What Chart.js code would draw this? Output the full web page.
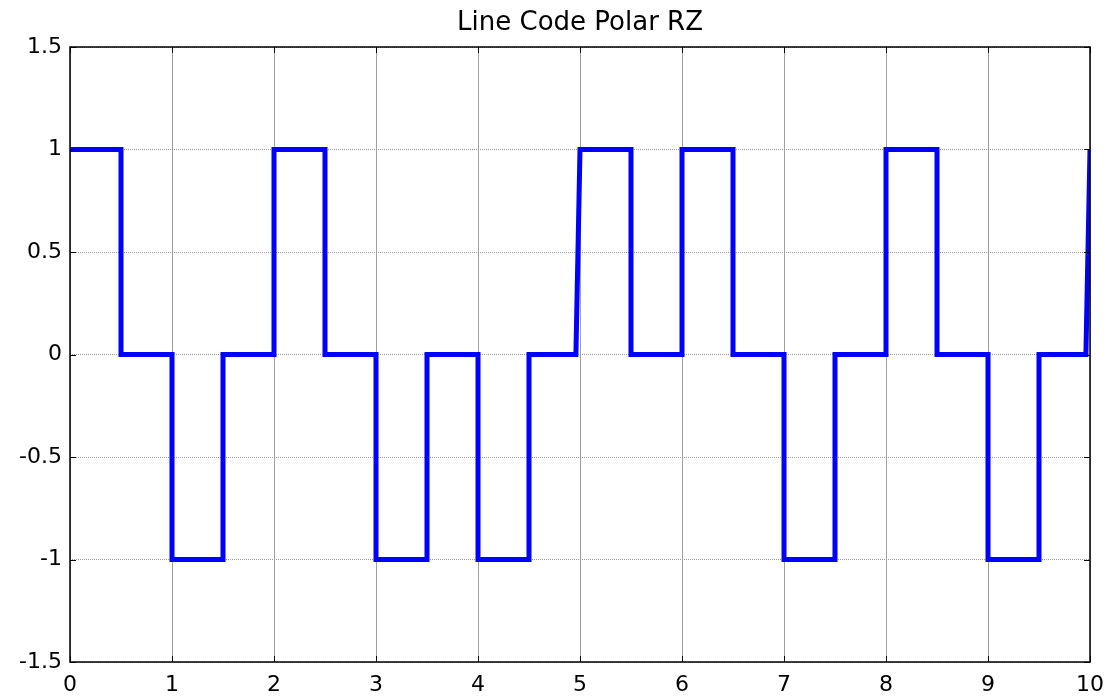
<!DOCTYPE html>
<html>
<head>
<meta charset="utf-8">
<script src="https://cdn.jsdelivr.net/npm/chart.js@4.4.0/dist/chart.umd.min.js"></script>
<style>
  html, body { margin: 0; padding: 0; background: #fff; }
  #wrap { width: 1115px; height: 696px; }
</style>
</head>
<body>
<div id="wrap"><canvas id="chart" width="1115" height="696"></canvas></div>
<script>
// polar RZ waveform
const timeVals = [0, 0.5, 0.5, 1, 1, 1.5, 1.5, 2, 2, 2.5, 2.5, 3, 3, 3.5, 3.5, 4, 4, 4.5, 4.5, 4.96, 5,
    5.5, 5.5, 6, 6, 6.5, 6.5, 7, 7, 7.5, 7.5, 8, 8, 8.5, 8.5, 9, 9, 9.5, 9.5, 9.96, 10];
const levelVals = [1, 1, 0, 0, -1, -1, 0, 0, 1, 1, 0, 0, -1, -1, 0, 0, -1, -1, 0, 0, 1,
    1, 0, 0, 1, 1, 0, 0, -1, -1, 0, 0, 1, 1, 0, 0, -1, -1, 0, 0, 1];
const xTicks = [0, 1, 2, 3, 4, 5, 6, 7, 8, 9, 10];
const yTicks = [-1.5, -1, -0.5, 0, 0.5, 1, 1.5];
const yTickLabels = ['-1.5', '-1', '-0.5', '0', '0.5', '1', '1.5'];
const chartTitle = 'Line Code Polar RZ';

const points = timeVals.map((t, i) => ({ x: t, y: levelVals[i] }));
const fontFam = '"DejaVu Sans", Arial, sans-serif';

// matlab style box with small inward ticks on all sides, title centred over the axes
const boxPlugin = {
    id: 'box',
    afterDraw(chart) {
        const { ctx, chartArea: a, scales } = chart;
        ctx.save();
        ctx.strokeStyle = '#000';
        ctx.lineWidth = 1;
        ctx.beginPath();
        xTicks.forEach(v => {
            const px = Math.round(scales.x.getPixelForValue(v)) + 0.5;
            ctx.moveTo(px, a.bottom); ctx.lineTo(px, a.bottom - 6);
            ctx.moveTo(px, a.top); ctx.lineTo(px, a.top + 6);
        });
        yTicks.forEach(v => {
            const py = Math.round(scales.y.getPixelForValue(v)) + 0.5;
            ctx.moveTo(a.left, py); ctx.lineTo(a.left + 6, py);
            ctx.moveTo(a.right, py); ctx.lineTo(a.right - 6, py);
        });
        ctx.stroke();
        ctx.lineWidth = 1.5;
        ctx.strokeRect(a.left, a.top, a.right - a.left, a.bottom - a.top);

        ctx.fillStyle = '#000';
        ctx.font = '26px ' + fontFam;
        ctx.textAlign = 'center';
        ctx.textBaseline = 'alphabetic';
        ctx.fillText(chartTitle, (a.left + a.right) / 2, 30);
        ctx.restore();
    }
};

new Chart(document.getElementById('chart'), {
    type: 'line',
    data: {
        datasets: [{
            data: points,
            borderColor: '#0000ff',
            borderWidth: 5,
            pointRadius: 0,
            tension: 0,
            fill: false,
            borderJoinStyle: 'miter'
        }]
    },
    options: {
        responsive: false,
        animation: false,
        layout: { padding: { left: 0, right: 25, top: 47, bottom: 0 } },
        plugins: {
            legend: { display: false },
            tooltip: { enabled: false },
            title: { display: false }
        },
        scales: {
            x: {
                type: 'linear',
                min: 0,
                max: 10,
                afterBuildTicks: s => { s.ticks = xTicks.map(v => ({ value: v })); },
                afterFit: s => { s.height = 34; },
                grid: { color: '#a0a0a0', lineWidth: 1, drawTicks: false },
                border: { display: false },
                ticks: {
                    padding: 10,
                    color: '#000',
                    font: { family: fontFam, size: 22 }
                }
            },
            y: {
                type: 'linear',
                min: -1.5,
                max: 1.5,
                afterBuildTicks: s => { s.ticks = yTicks.map(v => ({ value: v })); },
                afterFit: s => { s.width = 70; },
                grid: { color: '#9a9a9a', lineWidth: 1, drawTicks: false },
                border: { display: false, dash: [1, 1] },
                ticks: {
                    padding: 8,
                    color: '#000',
                    font: { family: fontFam, size: 22 },
                    callback: (v, i) => yTickLabels[i]
                }
            }
        }
    },
    plugins: [boxPlugin]
});
</script>
</body>
</html>
